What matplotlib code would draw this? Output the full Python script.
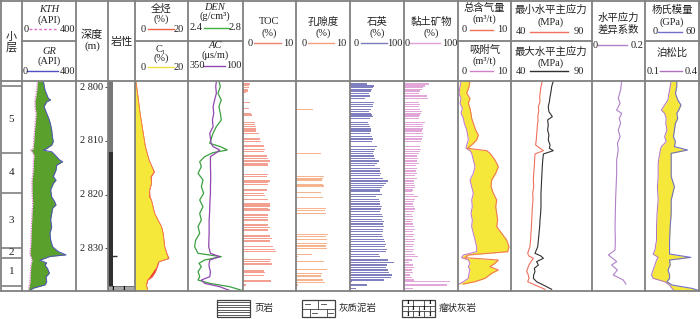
import matplotlib
matplotlib.use('Agg')
import matplotlib.pyplot as plt
from matplotlib.patches import Rectangle

plt.rcParams['font.family'] = ['Liberation Serif', 'Noto Sans CJK SC', 'DejaVu Sans']

# ---------------- data ----------------
D_TOP, D_BOT = 2798.83, 2837.84

layer_bounds = [2799.75, 2812.2, 2819.7, 2830.0, 2831.7, 2837.0]
layer_names = ['5', '4', '3', '2', '1']
depth_ticks = [2800, 2810, 2820, 2830]

gr_depth = [2798.85, 2800.5, 2802.05, 2802.36, 2802.68, 2803.6, 2804.85, 2806.1, 2807.0, 2807.95,
            2809.2, 2810.1, 2810.75, 2811.4, 2811.7, 2812.0, 2812.6, 2813.5, 2813.85, 2814.5,
            2815.4, 2816.6, 2817.3, 2817.9, 2819.1, 2820.4, 2821.3, 2821.9, 2822.5, 2823.5,
            2824.7, 2825.95, 2827.2, 2828.4, 2829.7, 2830.6, 2831.2, 2831.5, 2832.2, 2832.7,
            2833.1, 2833.7, 2834.6, 2835.3, 2836.2, 2836.8, 2837.4, 2837.8]
gr = [158, 170, 195, 212, 183, 163, 183, 203, 212, 220, 225, 232, 220, 183, 158, 220, 245, 277, 301, 257,
      252, 232, 252, 232, 212, 220, 242, 252, 227, 220, 212, 220, 207, 212, 227, 269, 326, 207, 133, 183,
      170, 188, 203, 178, 183, 170, 84, 59]
kth = [114, 109, 100, 96, 96, 96, 104, 100, 96, 93, 89, 87, 85, 84, 64, 75, 89, 86, 84, 84,
       82, 78, 74, 74, 74, 76, 79, 79, 77, 74, 72, 70, 67, 66, 64, 60, 59, 66, 74, 70,
       66, 64, 62, 60, 59, 55, 50, 47]

hc_depth = [2798.85, 2799.88, 2801.74, 2804.85, 2807.95, 2811.05, 2813.54, 2815.09, 2815.71, 2816.64,
            2817.88, 2819.13, 2820.37, 2821.0, 2822.23, 2823.47, 2824.71, 2825.95, 2827.2, 2828.44,
            2829.68, 2830.92, 2831.85, 2832.47, 2833.4, 2834.33, 2835.26, 2835.89, 2836.82, 2837.75]
c1 = [0.3, 0.6, 1.1, 1.9, 2.9, 3.9, 5.2, 6.5, 7.0, 5.7, 6.1, 5.4, 5.2, 6.1, 6.7, 7.3, 8.6, 9.9, 10.5, 10.8,
      11.1, 11.8, 12.4, 8.6, 8.0, 6.7, 5.4, 4.4, 4.2, 4.8]
total_hc = [0.3, 0.6, 1.1, 1.9, 2.9, 3.9, 5.3, 6.7, 7.3, 6.1, 6.2, 5.5, 5.6, 6.2, 6.8, 7.4, 8.7, 10.0, 10.6, 10.9,
            11.2, 12.0, 12.8, 9.0, 8.4, 7.7, 6.5, 4.8, 4.3, 4.8]

log_depth = [2798.85, 2799.88, 2801.12, 2802.37, 2803.61, 2804.85, 2806.09, 2807.33, 2808.57, 2809.5,
             2810.43, 2811.05, 2811.68, 2812.17, 2812.92, 2813.85, 2814.78, 2816.02, 2817.26, 2818.5,
             2819.75, 2820.99, 2822.23, 2823.47, 2824.71, 2825.95, 2827.2, 2828.44, 2829.68, 2830.92,
             2831.54, 2832.16, 2832.78, 2833.4, 2834.33, 2835.26, 2835.89, 2836.51, 2837.13, 2837.84]
den = [2.625, 2.635, 2.618, 2.642, 2.625, 2.635, 2.642, 2.606, 2.582, 2.570,
       2.558, 2.635, 2.686, 2.582, 2.521, 2.485, 2.497, 2.473, 2.509, 2.497,
       2.514, 2.485, 2.509, 2.485, 2.497, 2.473, 2.485, 2.456, 2.448, 2.473,
       2.642, 2.521, 2.480, 2.497, 2.473, 2.485, 2.473, 2.558, 2.703, 2.795]
ac = [221, 224, 221, 229, 236, 233, 239, 236, 251, 248,
      245, 236, 206, 221, 248, 248, 248, 247, 247, 248,
      248, 250, 251, 252, 254, 254, 254, 255, 256, 248,
      206, 251, 254, 254, 248, 251, 289, 274, 206, 161]

toc_depth = [2799.39, 2799.63, 2800.01, 2800.38, 2800.69, 2801.0, 2802.86, 2803.92, 2804.85, 2805.16,
             2806.52, 2806.89, 2807.33, 2807.77, 2808.14, 2808.57, 2809.63, 2810.12, 2810.93, 2811.55,
             2811.99, 2812.79, 2813.23, 2813.72, 2814.16, 2814.47, 2816.21, 2816.64, 2817.45, 2817.76,
             2818.07, 2819.13, 2819.75, 2820.18, 2820.86, 2821.73, 2822.1, 2822.54, 2822.85, 2823.78,
             2824.21, 2824.71, 2825.64, 2826.14, 2826.57, 2827.69, 2828.13, 2828.62, 2829.68, 2830.18,
             2830.61, 2832.04, 2832.47, 2832.91, 2834.21, 2834.53, 2835.02, 2836.08, 2836.82]
toc = [1.38, 1.19, 1.13, 1.0, 0.88, 0.63, 1.25, 1.19, 1.56, 1.69,
       2.19, 2.31, 2.38, 2.44, 2.5, 2.94, 3.25, 3.38, 3.88, 4.06,
       3.88, 4.5, 4.81, 5.0, 4.69, 4.63, 4.63, 4.5, 5.0, 4.81,
       4.75, 4.5, 4.0, 4.19, 4.63, 5.13, 5.0, 4.81, 5.0, 4.63,
       4.81, 4.69, 4.81, 5.0, 4.63, 5.13, 5.44, 5.0, 5.75, 6.06,
       6.19, 5.25, 5.0, 5.44, 3.88, 4.19, 4.0, 5.31, 0.63]

por_depth = [2804.1, 2812.3, 2816.64, 2816.95, 2817.26, 2818.07, 2818.38, 2819.62, 2820.55, 2822.54,
             2822.97, 2823.47, 2827.38, 2827.81, 2828.31, 2829.06, 2829.56, 2829.99, 2831.1, 2831.54,
             2832.47, 2833.9, 2834.64, 2835.14, 2835.89, 2836.38, 2836.82]
porosity = [3.09, 4.63, 5.19, 4.94, 4.75, 5.06, 5.19, 4.57, 5.06, 5.49,
            5.43, 5.56, 5.86, 5.56, 5.68, 5.68, 5.56, 5.68, 2.96, 0.43,
            5.19, 5.68, 4.75, 4.57, 5.06, 5.37, 0.43]

min_depth = [2799.39, 2799.76, 2800.01, 2800.38, 2800.69, 2801.12, 2801.62, 2802.05, 2802.86, 2803.17,
             2803.61, 2804.1, 2804.54, 2804.85, 2805.16, 2805.47, 2805.78, 2806.52, 2806.89, 2807.33,
             2807.77, 2808.14, 2808.57, 2809.19, 2809.63, 2810.12, 2811.05, 2811.55, 2811.99, 2812.3,
             2812.79, 2813.23, 2813.72, 2814.16, 2814.59, 2815.09, 2815.59, 2816.02, 2816.46, 2816.95,
             2817.45, 2817.88, 2818.32, 2818.69, 2819.13, 2819.44, 2819.93, 2820.37, 2820.86, 2821.3,
             2821.73, 2822.23, 2822.66, 2823.16, 2823.66, 2824.09, 2824.59, 2825.02, 2825.46, 2825.95,
             2826.45, 2826.88, 2827.38, 2827.81, 2828.31, 2828.74, 2829.24, 2829.68, 2830.18, 2830.61,
             2831.1, 2831.54, 2832.16, 2832.66, 2833.09, 2833.59, 2834.02, 2834.52, 2834.95, 2835.45,
             2835.89, 2836.2, 2836.82, 2837.44]
quartz = [32, 45, 42, 40, 39, 36, 37, 28, 45, 43,
          42, 39, 36, 39, 40, 42, 37, 34, 36, 37,
          39, 39, 37, 40, 42, 40, 50, 47, 45, 43,
          45, 47, 53, 50, 47, 56, 55, 57, 55, 62,
          70, 67, 63, 59, 55, 56, 59, 48, 53, 56,
          55, 59, 57, 55, 59, 61, 59, 63, 62, 63,
          61, 62, 59, 61, 63, 65, 67, 65, 68, 67,
          53, 56, 71, 81, 68, 67, 71, 73, 78, 75,
          63, 3, 31, 12]
clay = [46, 38, 36, 33, 30, 27, 43, 44, 27, 29,
        27, 30, 33, 31, 29, 28, 27, 38, 36, 35,
        36, 33, 35, 35, 34, 31, 30, 31, 29, 27,
        24, 25, 24, 27, 23, 24, 23, 24, 21, 24,
        19, 18, 21, 21, 17, 15, 18, 25, 21, 18,
        17, 19, 21, 18, 15, 17, 17, 15, 17, 18,
        21, 17, 19, 17, 21, 18, 19, 17, 18, 17,
        21, 25, 15, 10, 17, 18, 15, 17, 12, 15,
        19, 85, 80, 17]

gas_depth = [2798.85, 2799.88, 2801.12, 2802.05, 2802.99, 2803.92, 2804.85, 2805.78, 2806.71, 2807.95,
             2808.88, 2809.81, 2810.74, 2811.36, 2811.8, 2812.3, 2813.54, 2814.78, 2816.02, 2817.26,
             2818.5, 2819.75, 2820.99, 2822.23, 2823.47, 2824.71, 2825.95, 2827.2, 2828.44, 2829.68,
             2830.61, 2831.23, 2831.73, 2832.16, 2832.78, 2833.4, 2834.02, 2834.64, 2835.57, 2836.2,
             2836.63]
gas_total = [2.26, 2.08, 1.64, 2.26, 1.95, 2.26, 2.45, 2.58, 2.89, 3.33,
             3.84, 3.52, 2.58, 1.82, 5.41, 6.04, 6.98, 7.61, 7.11, 6.35,
             6.23, 6.67, 7.30, 7.11, 7.30, 7.48, 7.30, 8.24, 9.18, 9.62,
             9.37, 1.95, 1.32, 7.61, 6.98, 6.04, 7.61, 6.35, 5.09, 3.21,
             1.01]
gas_ads = [0.57, 0.38, 0.19, 0.57, 0.38, 0.82, 0.57, 1.01, 1.19, 1.64,
           1.82, 1.95, 1.64, 1.51, 2.26, 2.58, 2.89, 3.21, 2.89, 2.26,
           2.58, 2.89, 2.58, 2.70, 2.45, 2.70, 2.58, 2.89, 3.21, 3.52,
           3.52, 1.01, 0.69, 1.95, 2.26, 1.95, 2.26, 2.08, 1.95, 1.01,
           0.19]

stress_depth = [2798.85, 2799.88, 2800.81, 2801.74, 2802.68, 2803.61, 2804.54, 2805.47, 2806.09, 2807.02,
                2807.95, 2808.88, 2809.81, 2810.74, 2811.36, 2811.8, 2812.42, 2813.54, 2814.78, 2816.02,
                2817.26, 2818.5, 2819.75, 2820.99, 2822.23, 2823.47, 2824.71, 2825.95, 2827.2, 2828.44,
                2829.68, 2830.92, 2831.42, 2831.85, 2832.47, 2833.09, 2833.71, 2834.33, 2834.95, 2835.57,
                2836.2, 2836.82, 2837.62]
shmin = [59.3, 58.5, 58.1, 57.7, 57.9, 56.9, 57.1, 56.5, 56.7, 56.3,
         56.1, 55.8, 55.6, 55.2, 57.9, 60.0, 54.8, 54.6, 54.4, 54.0,
         53.8, 54.0, 53.4, 53.6, 53.2, 53.0, 52.8, 52.6, 52.3, 52.1,
         51.7, 50.3, 51.1, 53.8, 52.3, 51.1, 50.3, 49.7, 50.7, 51.1,
         50.3, 54.8, 61.0]
shmax = [66.1, 65.1, 64.7, 64.1, 63.7, 63.0, 63.4, 65.5, 62.6, 63.0,
         62.6, 63.4, 63.0, 64.1, 63.7, 66.1, 60.0, 59.6, 59.3, 59.1,
         58.9, 58.7, 58.5, 58.5, 58.5, 58.3, 57.9, 57.7, 57.3, 56.9,
         56.5, 54.8, 58.5, 60.0, 55.8, 56.9, 54.4, 54.8, 54.0, 53.8,
         55.8, 60.0, 65.1]

diff_depth = [2798.85, 2800.5, 2802.05, 2802.99, 2804.23, 2804.85, 2805.78, 2806.71, 2807.95, 2809.19,
              2810.43, 2811.68, 2813.54, 2816.02, 2818.5, 2820.99, 2823.47, 2825.95, 2828.44, 2830.3,
              2831.23, 2831.85, 2832.47, 2833.09, 2834.02, 2834.95, 2835.89, 2836.63]
diff_coef = [0.112, 0.108, 0.099, 0.106, 0.093, 0.112, 0.103, 0.108, 0.099, 0.106,
             0.096, 0.099, 0.093, 0.093, 0.091, 0.089, 0.088, 0.087, 0.088, 0.087,
             0.062, 0.078, 0.093, 0.074, 0.096, 0.080, 0.118, 0.128]

mech_depth = [2798.85, 2799.88, 2801.12, 2802.37, 2803.3, 2804.23, 2804.85, 2805.78, 2806.71, 2807.95,
              2809.19, 2810.12, 2811.05, 2811.68, 2812.3, 2814.16, 2816.64, 2818.5, 2820.99, 2823.47,
              2825.95, 2828.44, 2830.3, 2831.05, 2831.67, 2832.16, 2833.09, 2834.02, 2834.95, 2835.57,
              2836.2, 2836.82, 2837.44, 2837.84]
young = [35.3, 35.3, 33.8, 36.4, 40.0, 37.5, 35.3, 36.4, 33.8, 32.7,
         31.6, 33.8, 32.7, 47.3, 29.1, 29.1, 29.1, 32.7, 29.1, 29.1,
         28.0, 27.3, 27.3, 27.3, 50.9, 27.3, 28.0, 25.5, 27.3, 27.3,
         24.4, 30.0, 52.0, 60.0]
poisson = [0.245, 0.240, 0.233, 0.227, 0.209, 0.191, 0.209, 0.218, 0.215, 0.222,
           0.209, 0.218, 0.191, 0.185, 0.182, 0.173, 0.173, 0.169, 0.173, 0.167,
           0.164, 0.164, 0.155, 0.145, 0.173, 0.164, 0.155, 0.145, 0.136, 0.145,
           0.209, 0.236, 0.250, 0.262]

legend_names = ['页岩', '灰质泥岩', '瘤状灰岩']

# ---------------- figure ----------------
W, H = 700, 319
fig = plt.figure(figsize=(7, 3.19), dpi=100)
Y0, Y1 = 81, 290.5
FC = '#808080'
TXT = '#222222'
YEL = '#f6e83a'


def track(x0, x1, xlim):
    ax = fig.add_axes([x0 / W, 1 - Y1 / H, (x1 - x0) / W, (Y1 - Y0) / H])
    ax.set_ylim(D_BOT, D_TOP)
    ax.set_xlim(*xlim)
    ax.axis('off')
    return ax


def twin(ax, xlim):
    t = ax.twiny()
    t.set_xlim(*xlim)
    t.set_ylim(D_BOT, D_TOP)
    t.axis('off')
    return t


# layer column
ax = track(1, 22, (0, 1))
ax.hlines(layer_bounds, 0, 1, color=FC, lw=1.2)
for i, name in enumerate(layer_names):
    ax.text(0.5, (layer_bounds[i] + layer_bounds[i + 1]) / 2, name, ha='center', va='center',
            fontsize=8, color=TXT)

# GR / KTH
ax = track(22, 76, (0, 400))
ax.fill_betweenx(gr_depth, kth, gr, color='#5aa02c', lw=0)
ax.plot(gr, gr_depth, color='#5050c0', lw=0.7)
ax.plot(kth, gr_depth, color='#e070c8', lw=0.9, ls=(0, (1, 1)))

# depth
ax = track(76, 108, (0, 1))
for d in depth_ticks:
    ax.text(0.86, d, '2 %03d' % (d - 2000), ha='right', va='center', fontsize=7.5, color=TXT)
    ax.hlines(d, 0.9, 1.0, color=TXT, lw=0.6)

# lithology
ax = track(108, 135, (0, 1))
ax.add_patch(Rectangle((0, D_TOP), 0.2, 2812.0 - D_TOP, color='#787878', lw=0))
ax.add_patch(Rectangle((0, 2812.0), 0.2, 2837.0 - 2812.0, color='#303030', lw=0))
ax.add_patch(Rectangle((0, 2837.0), 1.0, D_BOT - 2837.0, facecolor='#a8a8a8', edgecolor='#606060', lw=0.6))
for xm in (0.2, 0.6):
    ax.text(xm, (2837.0 + D_BOT) / 2, 'I', ha='center', va='center', fontsize=5, fontweight='bold', color='black')
ax.hlines(2831.45, 0, 0.35, color='#303030', lw=1.0)

# total HC / C1
ax = track(135, 188, (0, 20))
ax.fill_betweenx(hc_depth, 0, total_hc, color='#e8302a', lw=0)
ax.fill_betweenx(hc_depth, 0, c1, color=YEL, lw=0)
ax.plot(total_hc, hc_depth, color='#f07050', lw=0.6)

# DEN / AC
ax = track(188, 243, (2.4, 2.8))
ax.plot(den, log_depth, color='#3aa040', lw=0.9)
t = twin(ax, (350, 100))
t.plot(ac, log_depth, color='#9048b0', lw=0.9)

# TOC
ax = track(243, 296, (0, 10))
ax.barh(toc_depth, toc, height=0.28, color='#f4a090', lw=0)
# porosity
ax = track(296, 350, (0, 10))
ax.barh(por_depth, porosity, height=0.28, color='#f6b48e', lw=0)
# quartz
ax = track(350, 404, (0, 100))
ax.barh(min_depth, quartz, height=0.24, color='#8080c0', lw=0)
# clay
ax = track(404, 458, (0, 100))
ax.barh(min_depth, clay, height=0.24, color='#e2a6d8', lw=0)

# gas content
ax = track(458, 511, (0, 10))
ax.fill_betweenx(gas_depth, gas_ads, gas_total, color=YEL, lw=0)
ax.plot(gas_total, gas_depth, color='#f07858', lw=0.8)
ax.plot(gas_ads, gas_depth, color='#c070c8', lw=0.7)

# stress
ax = track(511, 592, (40, 90))
ax.plot(shmin, stress_depth, color='#f07060', lw=0.8)
ax.plot(shmax, stress_depth, color='#303030', lw=0.8)

# stress difference coefficient
ax = track(592, 645, (0, 0.2))
ax.plot(diff_coef, diff_depth, color='#b080c8', lw=0.8)

# Young / Poisson
ax = track(645, 699, (0, 60))
pois_on_young = [(p - 0.1) / 0.3 * 60 for p in poisson]
ax.fill_betweenx(mech_depth, pois_on_young, young, color=YEL, lw=0)
ax.plot(young, mech_depth, color='#7070c8', lw=0.8)
t = twin(ax, (0.1, 0.4))
t.plot(poisson, mech_depth, color='#b070c0', lw=0.7)

# ---------------- overlay: frame, header, legend ----------------
ov = fig.add_axes([0, 0, 1, 1], zorder=10)
ov.set_xlim(0, W)
ov.set_ylim(H, 0)
ov.axis('off')
ov.patch.set_alpha(0)

cols = [1, 22, 76, 108, 135, 188, 243, 296, 350, 404, 458, 511, 592, 645, 699]
for x in cols:
    ov.plot([x, x], [1, Y1], color=FC, lw=1.3)
for y in (1, Y0, Y1):
    ov.plot([1, 699], [y, y], color=FC, lw=1.3)
for a, b in [(22, 76), (135, 188), (188, 243), (458, 511), (511, 592), (645, 699)]:
    ov.plot([a, b], [41, 41], color=FC, lw=1.3)


def T(x, y, s, size=7.5, **kw):
    ov.text(x, y, s, ha=kw.pop('ha', 'center'), va='center', fontsize=size, color=TXT, **kw)


def scale(y, lt, lx, x0, x1, rt, rx, color, ls='-'):
    T(lx, y, lt, ha='left')
    T(rx, y, rt, ha='right')
    ov.plot([x0, x1], [y, y], color=color, lw=1.0, ls=ls)


T(11, 37, '小', size=8)
T(11, 47, '层', size=8)

T(49, 10, 'KTH', style='italic')
T(49, 20, '(API)')
scale(29, '0', 23.5, 29, 58, '400', 75.5, '#e070c8', ls=(0, (2, 1.5)))
T(49, 51, 'GR', style='italic')
T(49, 61, '(API)')
scale(71, '0', 23, 27, 58, '400', 75.5, '#5050c0')

T(92, 35, '深度', size=8)
T(92, 46, '(m)', size=8)
T(121.5, 42, '岩性', size=8)

T(161, 9, '全烃')
T(161, 19, '(%)')
scale(29, '0', 141, 148, 174, '20', 184, '#f06040')
T(161, 49, 'C₁')
T(161, 58, '(%)')
scale(67, '0', 141, 148, 174, '20', 184, '#f0e040')

T(215, 7, 'DEN', style='italic')
T(215, 16, '(g/cm³)')
scale(28, '2.4', 190, 204, 229, '2.8', 241.5, '#40b040')
T(215, 46, 'AC', style='italic')
T(215, 55, '(μs/m)')
scale(66, '350', 190, 203, 225, '100', 241.5, '#9048b0')

T(269.5, 22, 'TOC')
T(269.5, 33, '(%)')
scale(43, '0', 247.5, 254, 281, '10', 293, '#f08070')
T(323, 22, '孔隙度')
T(323, 33, '(%)')
scale(43, '0', 302, 308, 334, '10', 346, '#f4a080')
T(377, 22, '石英')
T(377, 33, '(%)')
scale(43, '0', 354, 361, 387, '100', 403, '#7c7cbc')
T(431, 22, '黏土矿物')
T(431, 33, '(%)')
scale(43, '0', 405, 410, 440, '100', 457.5, '#e0a0d8')

T(484.5, 8, '总含气量')
T(484.5, 19, '(m³/t)')
scale(30, '0', 462, 470, 493, '10', 507, '#f07058')
T(484.5, 50, '吸附气')
T(484.5, 61, '(m³/t)')
scale(71, '0', 462, 470, 493, '10', 507, '#d080c8')

T(551, 10, '最小水平主应力')
T(551, 22, '(MPa)')
scale(32, '40', 516, 530, 568, '90', 584, '#f07060')
T(551, 52, '最大水平主应力')
T(551, 63, '(MPa)')
scale(71, '40', 516, 530, 568, '90', 584, '#303030')

T(618, 18, '水平应力')
T(618, 30, '差异系数')
scale(45, '0', 593, 598, 627, '0.2', 643.5, '#b080c8')

T(672, 10, '杨氏模量')
T(672, 22, '(GPa)')
scale(32, '0', 652.5, 658, 682, '60', 696, '#7070c8')
T(672, 53, '泊松比')
scale(71, '0.1', 646.5, 660, 682, '0.4', 698, '#b070c0')

# legend
LC = '#404040'
bx = [217, 302, 402]
by0, by1 = 300, 317
for x in bx:
    ov.add_patch(Rectangle((x, by0), 33, by1 - by0, fill=False, edgecolor=LC, lw=0.9))
# shale: horizontal lines
for k in range(1, 7):
    y = by0 + k * (by1 - by0) / 7
    ov.plot([217, 250], [y, y], color=LC, lw=0.6)
# calcareous mudstone
x = bx[1]
ym = (by0 + by1) / 2
ov.plot([x, x + 33], [ym, ym], color=LC, lw=0.6)
ov.plot([x + 16, x + 16], [by0, ym], color=LC, lw=0.6)
ov.plot([x + 8, x + 8], [ym, by1], color=LC, lw=0.6)
ov.plot([x + 25, x + 25], [ym, by1], color=LC, lw=0.6)
for (a, yy) in [(x + 5, by0 + 4), (x + 21, by0 + 4), (x + 12, by1 - 4), (x + 28, by1 - 4)]:
    ov.plot([a - 2.5, a + 2.5], [yy, yy], color=LC, lw=0.6)
# nodular limestone
x = bx[2]
h3 = (by1 - by0) / 3
for yy in (by0 + h3, by0 + 2 * h3):
    ov.plot([x, x + 33], [yy, yy], color=LC, lw=0.6)
for vx, ya, yb in [(x + 11, by0, by0 + h3), (x + 22, by0, by0 + h3), (x + 6, by0 + h3, by0 + 2 * h3),
                   (x + 17, by0 + h3, by0 + 2 * h3), (x + 28, by0 + h3, by0 + 2 * h3),
                   (x + 11, by0 + 2 * h3, by1), (x + 22, by0 + 2 * h3, by1)]:
    ov.plot([vx, vx], [ya, yb], color=LC, lw=0.6)
for ix, iy in [(x + 6, by0 + h3 / 2), (x + 28, by0 + h3 / 2), (x + 11, by0 + 1.5 * h3), (x + 22, by0 + 1.5 * h3),
               (x + 6, by0 + 2.5 * h3), (x + 28, by0 + 2.5 * h3), (x + 17, by0 + 2.5 * h3)]:
    ov.text(ix, iy, 'I', ha='center', va='center', fontsize=5, fontweight='bold', color='black')

for name, lx in zip(legend_names, [254, 339, 439]):
    T(lx, 308.5, name, size=6.8, ha='left')

fig.savefig('out.png', dpi=100)
